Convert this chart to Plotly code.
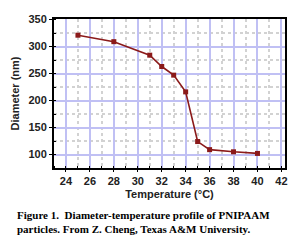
import plotly.graph_objects as go

temperature = [25, 28, 31, 32, 33, 34, 35, 36, 38, 40]
diameter = [321, 309, 284, 263, 247, 216, 124, 109, 105, 102]
x_ticks = [24, 26, 28, 30, 32, 34, 36, 38, 40, 42]
y_ticks = [100, 150, 200, 250, 300, 350]
caption = "Figure 1.  Diameter-temperature profile of PNIPAAM<br>particles. From Z. Cheng, Texas A&M University."

fig = go.Figure()
fig.add_trace(go.Scatter(
    x=temperature, y=diameter, mode="lines+markers",
    line=dict(color="#8b1a1a", width=1.6),
    marker=dict(symbol="square", size=5, color="#8b1a1a"),
    showlegend=False,
))

axfont = dict(family="Arial, Liberation Sans, sans-serif", size=11, color="#222")
tfont = dict(family="Arial, Liberation Sans, sans-serif", size=11, color="#222", weight="bold")
fig.update_xaxes(
    range=[23, 42.3], tickvals=x_ticks, ticks="outside", ticklen=2, tickwidth=1,
    tickcolor="black", showline=True, linecolor="black", linewidth=2, mirror=True,
    showgrid=True, gridcolor="#c0c0f4", gridwidth=1.5,
    minor=dict(dtick=1, showgrid=True, gridcolor="#d2d2d2", griddash="dot", ticks="inside", ticklen=2, tickcolor="black"),
    tickfont=tfont,
    title=dict(text="<b>Temperature (°C)</b>", font=axfont, standoff=4),
    zeroline=False,
)
fig.update_yaxes(
    range=[75, 351], tickvals=y_ticks, ticks="outside", ticklen=3, tickwidth=1,
    tickcolor="black", showline=True, linecolor="black", linewidth=2, mirror=True,
    showgrid=True, gridcolor="#c0c0f4", gridwidth=1.5,
    minor=dict(dtick=25, showgrid=True, gridcolor="#d2d2d2", griddash="dot", ticks="inside", ticklen=2, tickcolor="black"),
    tickfont=tfont,
    title=dict(text="<b>Diameter (nm)</b>", font=axfont, standoff=7),
    zeroline=False,
)

fig.add_annotation(
    text="<b>" + caption + "</b>", xref="paper", yref="paper", x=-0.17, y=-0.265,
    xanchor="left", yanchor="top", showarrow=False, align="left",
    font=dict(family="Liberation Serif, Times New Roman, serif", size=11, color="black"),
)

fig.update_layout(
    width=299, height=232,
    margin=dict(l=46, r=22, t=5, b=72),
    paper_bgcolor="white", plot_bgcolor="white",
)

fig.write_html("out.html")
